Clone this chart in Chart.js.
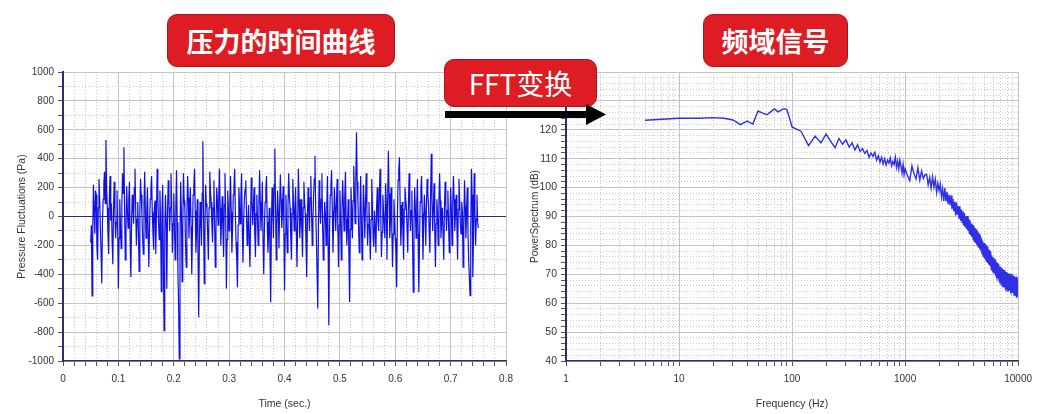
<!DOCTYPE html>
<html lang="zh">
<head>
<meta charset="utf-8">
<title>压力的时间曲线 / 频域信号</title>
<script src="https://cdn.jsdelivr.net/npm/chart.js"></script>
<style>
  html, body { margin: 0; padding: 0; background: #fff; }
  #palco { position: relative; width: 1039px; height: 414px; overflow: hidden; background: #fff; }
  canvas { position: absolute; top: 60px; }
  #graficoPressao { left: 0; }
  #graficoEspectro { left: 520px; }
  .etiqueta {
    position: absolute; box-sizing: border-box; z-index: 2;
    display: flex; align-items: center; justify-content: center;
    background: #de1c24; border: 1.5px solid #a9151c; border-radius: 10px;
    color: #fff; font-family: 'Noto Sans CJK SC', sans-serif; font-size: 27px; font-weight: bold;
  }
  #etqTempo { left: 167px; top: 14px; width: 228px; height: 53px; }
  #etqFreq { left: 703px; top: 14px; width: 145px; height: 53px; }
  #etqFFT { left: 444px; top: 59px; width: 153px; height: 48px; font-weight: normal; font-size: 28px; }
  #seta { position: absolute; left: 440px; top: 100px; z-index: 2; }
</style>
</head>
<body>
<div id="palco">
  <canvas id="graficoPressao" width="520" height="354"></canvas>
  <canvas id="graficoEspectro" width="519" height="354"></canvas>
  <div class="etiqueta" id="etqTempo">压力的时间曲线</div>
  <div class="etiqueta" id="etqFreq">频域信号</div>
  <div class="etiqueta" id="etqFFT">FFT变换</div>
  <svg id="seta" width="170" height="30">
    <rect x="5" y="11" width="145" height="7" fill="#000"></rect>
    <polygon points="146,4 166,14.5 146,25" fill="#000"></polygon>
  </svg>
</div>

<script>
// pressure signal, one sample every 1.25 ms starting at 0.05 s (40 samples per row)
const timeStart = 0.05;
const timeStep = 0.00125;
const pressurePa = [
  -180, -60, -550, -90, 220, 40, -120, 180, 150, -210, -300, 60, 260, 120, -80, -250, -464, -40, 120, 230, 310, 90, 530, 180, 60, -120, -260, 140, 280, -30, 90, -180, -330, 60, 240, 20, -150, -40, 180, -100,
  -500, -150, 120, -60, -220, 80, 300, 160, 480, 20, -300, -100, 210, 40, -80, 120, 240, -150, -420, -60, 150, 70, -50, 200, 330, 50, -200, -20, 100, -120, -380, 40, 260, 150, 20, -140, -260, 90, 310, 30,
  -150, 40, 200, -120, -350, -80, 120, 190, 280, 30, -120, -230, 60, 110, -260, 20, 330, 140, -40, -160, 180, -60, -520, 40, 220, -280, -790, -120, 150, -40, -500, 30, 250, 120, -100, 60, 300, 80, -250, -50,
  160, -80, -300, 70, 320, -40, -380, -620, -985, -150, 240, 30, -450, -90, 300, 110, 60, -180, -350, 20, 280, 130, -150, 50, 200, -70, -400, -110, 150, 220, 330, 40, -250, -90, 120, -240, -697, -180, 100, -30,
  -200, 160, 520, 40, -465, -130, 220, 90, 50, -120, -300, 60, 310, 180, 100, -50, -180, 60, 250, -40, -350, -100, 200, 110, -60, 140, 330, 60, -200, -30, 140, -90, -280, 80, 300, 20, -500, -160, 180, 40,
  -100, 90, 280, 30, -250, -70, 150, 210, 330, 20, -180, -300, -490, -60, 200, 80, -50, 140, 300, -90, -320, -30, 120, 190, 250, 40, -200, -80, 80, -150, -350, -20, 270, 110, -60, 70, 200, -110, -280, 20,
  150, -30, -200, 90, 320, 100, -100, 50, 240, -180, -400, -70, 100, 190, 280, -40, -250, -110, 60, -260, -593, -100, 200, 50, -150, 220, 470, 90, -300, -60, 180, 30, -220, 80, 290, 120, -80, 40, 210, -60,
  -512, -120, 150, -70, -250, 80, 300, 140, 60, -140, -300, 20, 260, 90, -100, 50, 200, -90, -350, -40, 330, 120, -150, -20, 120, -100, -280, 60, 240, 100, 20, -180, -420, -50, 200, 60, -100, 130, 280, 40,
  -200, -30, 150, 260, 420, 60, -150, -380, -637, -70, 250, 80, -50, 120, 300, -60, -300, -90, 100, 20, -200, 60, 280, -200, -754, -120, 150, 210, 320, 40, -250, -40, 200, 70, -100, 90, 260, -80, -350, -60,
  180, -40, -300, 60, 250, 90, -100, 130, 310, -20, -200, -60, 120, -260, -593, -90, 200, 40, -150, 110, 350, 160, -50, 260, 583, 240, 100, -80, -250, 40, 280, -30, -300, -70, 220, 60, -150, 90, 300, 50,
  -200, -60, 100, -120, -300, -20, 260, 70, -150, -210, 40, -80, -250, 60, 200, -30, -100, 150, 330, 20, -280, -110, 150, 40, -50, -150, 230, 90, -300, 120, 455, 160, -150, -40, 200, -90, -350, -120, 120, -20,
  -150, -260, -490, -30, 250, 320, 410, 80, -200, -40, 100, -110, -300, 50, 200, 120, 60, -80, -250, 90, 300, 60, -100, 40, 180, -200, -524, -60, 200, 50, -150, 90, 260, -120, -524, -170, 100, 190, 280, 20,
  -300, -40, 150, 30, -200, 70, 260, 160, 80, -100, -250, 140, 435, 120, -100, 60, 230, -90, -350, -50, 120, 20, -200, 90, 300, 110, -150, -30, 60, -120, -300, 50, 240, 80, -100, 40, 180, -60, -250, -20,
  200, 40, -200, 90, 280, 120, -100, 30, 150, -60, -300, 50, 260, 110, -50, -120, 100, 20, -350, -80, 250, 70, -150, 40, 200, -110, -300, -420, -547, -90, 330, 150, -420, -130, 300, 60, -200, -20, 150, -40,
  -80
];

// power spectrum (dB), three frequency bands
const freqLowHz = [5, 10, 15, 20, 25, 30, 35, 40, 45, 50, 55, 60, 65, 70, 75, 80, 85, 90, 95, 100];
const psdLowDb = [123.3, 124.0, 124.0, 124.2, 124.0, 123.4, 121.8, 123.0, 122.0, 126.5,
  125.8, 125.2, 126.3, 127.2, 126.2, 126.8, 127.3, 127.0, 124.0, 121.0];

const midStartHz = 120, midStepHz = 20;
const psdMidDb = [
  119.5, 114.5, 117.8, 115.5, 118.5, 116.0, 113.8, 117.0, 115.0, 116.5,
  114.0, 115.5, 113.0, 114.8, 112.5, 113.5, 111.8, 112.8, 110.5, 112.0,
  110.8, 112.2, 109.5, 111.0, 108.8, 110.5, 108.2, 110.0, 107.8, 109.5,
  108.5, 110.2, 107.5, 109.0, 108.0, 110.5, 107.0, 109.2, 106.5, 109.5,
  107.5, 105.0, 108.0, 104.5, 106.5
];

const highStartHz = 1050, highStepHz = 50;
const psdHighDb = [
  104.2, 102.4, 107.5, 104.8, 103.0, 106.9, 102.6, 105.8, 103.1, 104.4,
  104.6, 100.9, 103.5, 99.8, 103.8, 100.2, 102.9, 98.4, 101.6, 98.9,
  101.2, 96.8, 99.6, 95.4, 99.8, 95.2, 98.5, 94.3, 97.6, 93.9,
  97.3, 92.6, 96.1, 91.8, 95.2, 90.4, 94.9, 90.6, 93.5, 89.2,
  93.6, 88.5, 92.4, 87.9, 91.8, 86.8, 91.2, 86.5, 90.1, 85.7,
  90.2, 85.1, 89.3, 84.2, 88.7, 83.5, 87.6, 82.9, 87.1, 82.2,
  86.9, 81.4, 86.1, 80.8, 85.6, 80.2, 84.9, 79.6, 84.3, 79.1,
  83.8, 78.6, 83.2, 78.1, 82.5, 77.2, 81.6, 76.4, 80.9, 75.9,
  80.8, 75.6, 80.4, 75.1, 79.8, 74.3, 79.5, 73.9, 78.6, 73.4,
  78.4, 73.1, 77.9, 72.6, 77.2, 71.8, 76.5, 71.3, 75.9, 70.8,
  75.8, 70.9, 75.4, 70.2, 75.1, 69.6, 74.6, 69.5, 74.2, 68.8,
  73.9, 68.7, 73.6, 68.3, 73.2, 67.9, 72.8, 67.4, 72.5, 67.2,
  72.6, 66.9, 72.1, 66.5, 71.8, 66.2, 71.5, 65.8, 71.4, 66.1,
  71.5, 65.6, 70.9, 65.2, 70.6, 64.8, 70.8, 65.3, 70.2, 64.9,
  70.4, 64.6, 70.1, 64.9, 69.8, 64.2, 70.3, 64.5, 69.6, 64.8,
  69.9, 64.1, 69.5, 63.8, 70.2, 64.3, 69.4, 63.6, 69.2, 64.0,
  69.6, 63.5, 69.1, 62.8, 69.3, 63.9, 68.8, 63.2, 69.0, 62.9,
  68.9, 63.1, 68.5, 62.6, 69.2, 63.4, 68.3, 62.2, 68.7, 63.3
];

const GRID_MAJOR = '#c4c4c4';
const GRID_MINOR = '#c9c9c9';
const AXIS_COLOR = '#2e2e6c';
const TEXT_COLOR = '#333';

Chart.defaults.font.family = "'Liberation Sans', Arial, sans-serif";
Chart.defaults.color = TEXT_COLOR;

const isMajorTime = v => Math.abs(v * 10 - Math.round(v * 10)) < 1e-6;
const isMajorPressure = v => Math.abs(v % 200) < 1e-6;
const isMajorDb = v => Math.abs(v % 10) < 1e-6;
const isDecade = v => { const l = Math.log10(v); return Math.abs(l - Math.round(l)) < 1e-9; };

function gridOptions(isMajor, zeroLine) {
  return {
    color: c => {
      if (!c.tick) return GRID_MAJOR;
      if (zeroLine && c.tick.value === 0) return AXIS_COLOR;
      return isMajor(c.tick.value) ? GRID_MAJOR : GRID_MINOR;
    },
    lineWidth: 1,
    tickColor: '#555',
    tickLength: 5
  };
}

function borderOptions(isMajor, width) {
  return {
    color: AXIS_COLOR,
    width: width,
    dash: c => (c.tick && !isMajor(c.tick.value)) ? [1, 2] : []
  };
}

function desenharPressao() {
  const pontos = pressurePa.map((p, i) => ({ x: timeStart + i * timeStep, y: p }));

  new Chart(document.getElementById('graficoPressao'), {
    type: 'line',
    data: {
      datasets: [{
        data: pontos,
        borderColor: '#1010e4',
        borderWidth: 1.2,
        pointRadius: 0,
        tension: 0
      }]
    },
    options: {
      responsive: false,
      animation: false,
      layout: { padding: { top: 12, right: 10, left: 0, bottom: 0 } },
      plugins: { legend: { display: false }, tooltip: { enabled: false } },
      scales: {
        x: {
          type: 'linear', min: 0, max: 0.8,
          afterFit: s => { s.height = 53; },
          ticks: {
            stepSize: 0.02, autoSkip: false, maxRotation: 0, padding: 7,
            font: { size: 10 },
            callback: v => isMajorTime(v) ? String(Math.round(v * 10) / 10) : ''
          },
          grid: gridOptions(isMajorTime),
          border: borderOptions(isMajorTime, 1.5),
          title: { display: true, text: 'Time (sec.)', font: { size: 10.5 }, padding: { top: 0, bottom: 4 } }
        },
        y: {
          type: 'linear', min: -1000, max: 1000,
          afterFit: s => { s.width = 63; },
          ticks: {
            stepSize: 100, autoSkip: false, padding: 4,
            font: { size: 10 },
            callback: v => isMajorPressure(v) ? String(v) : ''
          },
          grid: gridOptions(isMajorPressure, true),
          border: borderOptions(isMajorPressure, 2),
          title: { display: true, text: 'Pressure Fluctuations (Pa)', font: { size: 10.5 }, padding: { top: 16, bottom: 0 } }
        }
      }
    }
  });
}

function desenharEspectro() {
  const pontos = [];
  freqLowHz.forEach((f, i) => pontos.push({ x: f, y: psdLowDb[i] }));
  psdMidDb.forEach((db, i) => pontos.push({ x: midStartHz + i * midStepHz, y: db }));
  psdHighDb.forEach((db, i) => pontos.push({ x: highStartHz + i * highStepHz, y: db }));

  new Chart(document.getElementById('graficoEspectro'), {
    type: 'line',
    data: {
      datasets: [{
        data: pontos,
        borderColor: 'rgba(25, 25, 228, 0.9)',
        borderWidth: 1.4,
        pointRadius: 0,
        tension: 0
      }]
    },
    options: {
      responsive: false,
      animation: false,
      layout: { padding: { top: 12, right: 17, left: 0, bottom: 0 } },
      plugins: { legend: { display: false }, tooltip: { enabled: false } },
      scales: {
        x: {
          type: 'logarithmic', min: 1, max: 10000,
          afterFit: s => { s.height = 53; },
          afterBuildTicks: s => {
            s.ticks = s.ticks.filter(t => {
              const m = t.value / Math.pow(10, Math.floor(Math.log10(t.value) + 1e-9));
              return Math.abs(m - Math.round(m)) < 1e-6;
            });
          },
          ticks: {
            autoSkip: false, maxRotation: 0, padding: 7,
            font: { size: 10 },
            callback: v => isDecade(v) ? String(v) : ''
          },
          grid: gridOptions(isDecade),
          border: borderOptions(isDecade, 1.5),
          title: { display: true, text: 'Frequency (Hz)', font: { size: 10.5 }, padding: { top: 0, bottom: 4 } }
        },
        y: {
          type: 'linear', min: 40, max: 140,
          afterFit: s => { s.width = 46; },
          ticks: {
            stepSize: 2, autoSkip: false, padding: 4,
            font: { size: 10.5 },
            callback: v => isMajorDb(v) ? String(v) : ''
          },
          grid: gridOptions(isMajorDb),
          border: borderOptions(isMajorDb, 2),
          title: { display: true, text: 'PowerSpectrum (dB)', font: { size: 10 }, padding: { top: 9, bottom: 0 } }
        }
      }
    }
  });
}

window.onload = function () {
  desenharPressao();
  desenharEspectro();
};
</script>
</body>
</html>
